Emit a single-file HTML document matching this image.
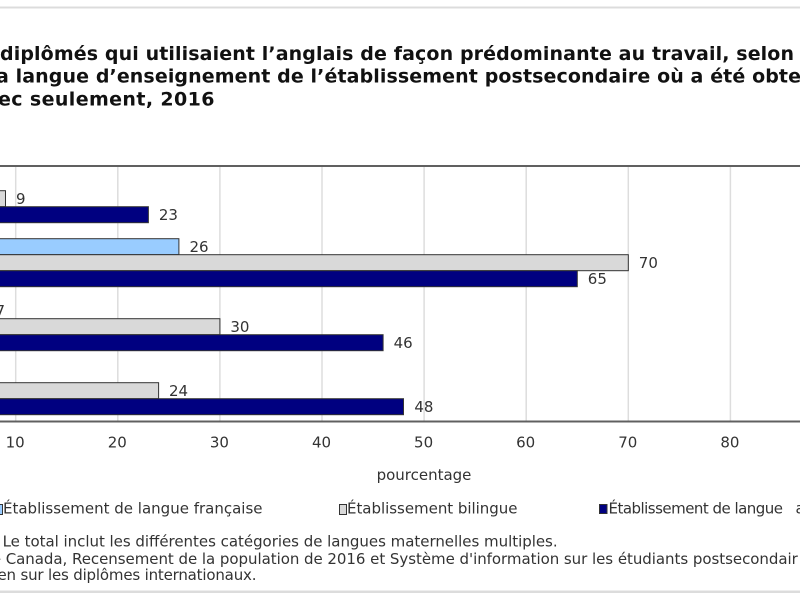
<!DOCTYPE html>
<html><head><meta charset="utf-8"><style>
html,body{margin:0;padding:0;background:#fff;}
svg{display:block;}
text{font-family:"DejaVu Sans","Liberation Sans",sans-serif;}
</style></head><body>
<svg width="800" height="600" viewBox="0 0 800 600" xmlns="http://www.w3.org/2000/svg">
<rect x="0" y="0" width="800" height="600" fill="#fff"/>
<!-- frame lines -->
<rect x="0" y="6.5" width="800" height="2" fill="#dcdcdc"/>
<rect x="0" y="590.5" width="800" height="2.5" fill="#dcdcdc"/>

<!-- title -->
<g font-weight="bold" font-size="19" fill="#111">
<text x="0" y="59.8" textLength="794" lengthAdjust="spacing">diplômés qui utilisaient l’anglais de façon prédominante au travail, selon</text>
<text x="-4" y="82.3" textLength="805" lengthAdjust="spacing">a langue d’enseignement de l’établissement postsecondaire où a été obte</text>
<text x="-2" y="105.3" textLength="216.5" lengthAdjust="spacing">ec seulement, 2016</text>
</g>

<!-- gridlines -->
<g stroke="#dddddd" stroke-width="1.5">
<line x1="15.7" y1="166" x2="15.7" y2="421"/>
<line x1="117.8" y1="166" x2="117.8" y2="421"/>
<line x1="219.9" y1="166" x2="219.9" y2="421"/>
<line x1="322" y1="166" x2="322" y2="421"/>
<line x1="424.1" y1="166" x2="424.1" y2="421"/>
<line x1="526.2" y1="166" x2="526.2" y2="421"/>
<line x1="628.3" y1="166" x2="628.3" y2="421"/>
<line x1="730.4" y1="166" x2="730.4" y2="421"/>
</g>

<!-- bars -->
<g stroke="#333" stroke-width="1">
<!-- group 1 -->
<rect x="-90" y="190.7" width="95.5" height="16" fill="#d9d9d9"/>
<rect x="-90" y="206.7" width="238.4" height="16" fill="#000080"/>
<!-- group 2 -->
<rect x="-90" y="238.7" width="268.9" height="16" fill="#99ccff"/>
<rect x="-90" y="254.7" width="718.3" height="16" fill="#d9d9d9"/>
<rect x="-90" y="270.7" width="667.3" height="16" fill="#000080"/>
<!-- group 3 -->
<rect x="-90" y="302.7" width="75" height="16" fill="#99ccff"/>
<rect x="-90" y="318.7" width="309.9" height="16" fill="#d9d9d9"/>
<rect x="-90" y="334.7" width="473.1" height="16" fill="#000080"/>
<!-- group 4 -->
<rect x="-90" y="382.7" width="248.6" height="16" fill="#d9d9d9"/>
<rect x="-90" y="398.7" width="493.5" height="16" fill="#000080"/>
</g>

<!-- axis lines -->
<rect x="0" y="165" width="800" height="2" fill="#606060"/>
<rect x="0" y="420.5" width="800" height="2" fill="#606060"/>

<!-- value labels -->
<g font-size="15" fill="#333">
<text x="16" y="204.2">9</text>
<text x="158.9" y="220.2">23</text>
<text x="189.5" y="252.2">26</text>
<text x="638.8" y="268.2">70</text>
<text x="587.8" y="284.2">65</text>
<text x="-4.5" y="316.2">7</text>
<text x="230.4" y="332.2">30</text>
<text x="393.6" y="348.2">46</text>
<text x="169" y="396.2">24</text>
<text x="414.4" y="412.2">48</text>
</g>

<!-- tick labels -->
<g font-size="15" fill="#333" text-anchor="middle">
<text x="15.2" y="447.5">10</text>
<text x="117.3" y="447.5">20</text>
<text x="219.4" y="447.5">30</text>
<text x="321.5" y="447.5">40</text>
<text x="423.6" y="447.5">50</text>
<text x="525.7" y="447.5">60</text>
<text x="627.8" y="447.5">70</text>
<text x="729.9" y="447.5">80</text>
</g>
<text x="424" y="480" font-size="15" fill="#333" text-anchor="middle">pourcentage</text>

<!-- legend -->
<g stroke="#333" stroke-width="1">
<rect x="-5" y="504.5" width="7.5" height="10" fill="#99ccff"/>
<rect x="339.5" y="504.5" width="7" height="10" fill="#d9d9d9"/>
<rect x="599.5" y="504.5" width="7.5" height="9" fill="#000080"/>
</g>
<g font-size="15" fill="#333">
<text x="3" y="513.5" textLength="259.5" lengthAdjust="spacing">Établissement de langue française</text>
<text x="347" y="513.5" textLength="170.5" lengthAdjust="spacing">Établissement bilingue</text>
<text x="608.5" y="513.5" textLength="174.5" lengthAdjust="spacing">Établissement de langue</text>
<text x="795.5" y="513.5">anglaise</text>
</g>

<!-- notes -->
<g font-size="15" fill="#333">
<text x="2.6" y="546.7" textLength="555" lengthAdjust="spacing">Le total inclut les différentes catégories de langues maternelles multiples.</text>
<text x="-8.2" y="564" textLength="806" lengthAdjust="spacing">e Canada, Recensement de la population de 2016 et Système d'information sur les étudiants postsecondair</text>
<text x="-2.5" y="580" textLength="259" lengthAdjust="spacing">en sur les diplômes internationaux.</text>
</g>
</svg>
</body></html>
